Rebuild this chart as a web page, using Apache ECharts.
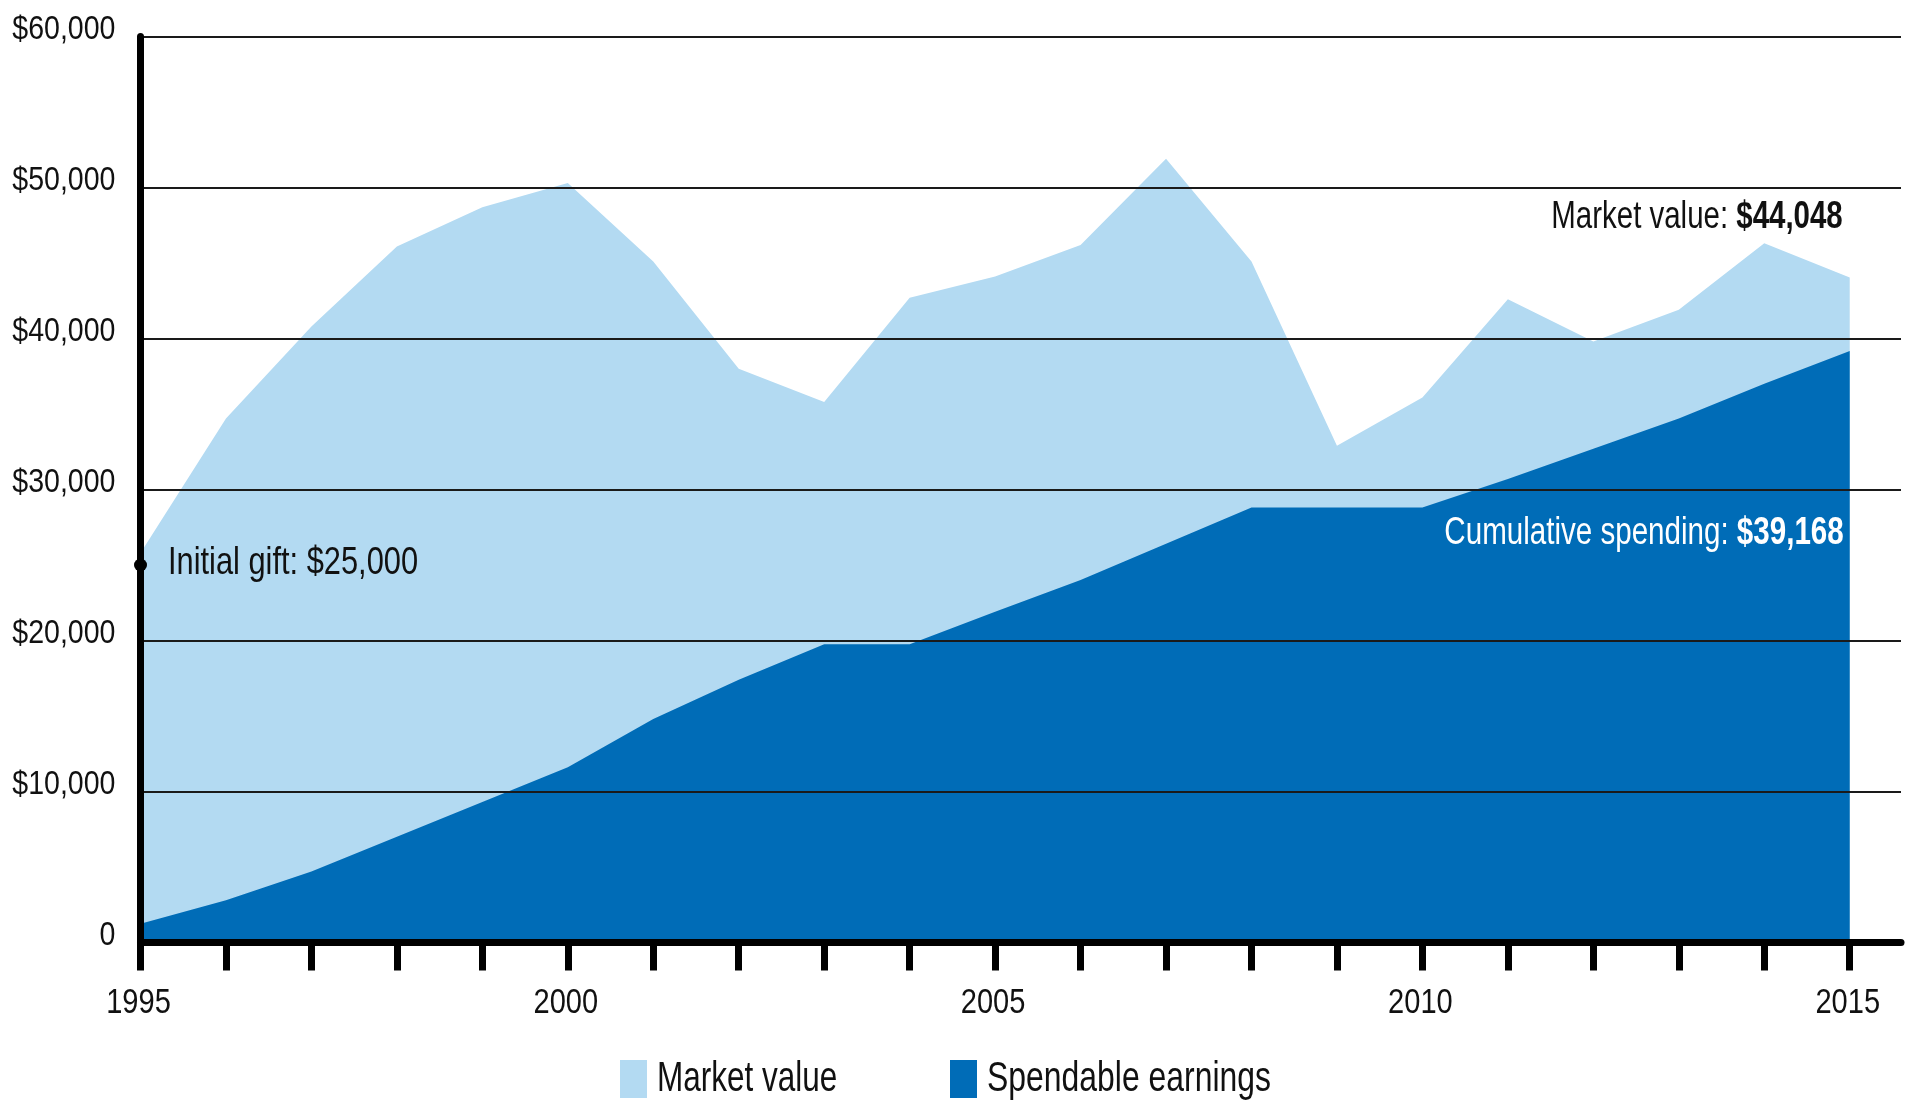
<!DOCTYPE html>
<html>
<head>
<meta charset="utf-8">
<title>Endowment: market value and spendable earnings</title>
<script src="https://cdn.jsdelivr.net/npm/echarts@6.0.0/dist/echarts.min.js"></script>
<style>
  html, body { margin: 0; padding: 0; background: #fff; }
  #chart { width: 1905px; height: 1101px; }
</style>
</head>
<body>
<div id="chart"></div>
<script>
// values
var years = [1995, 1996, 1997, 1998, 1999, 2000, 2001, 2002, 2003, 2004, 2005,
             2006, 2007, 2008, 2009, 2010, 2011, 2012, 2013, 2014, 2015];
var marketValue = [25800, 34700, 40800, 46100, 48700, 50300, 45100, 38000, 35800, 42700, 44100,
                   46200, 51900, 45100, 32900, 36100, 42600, 39800, 41900, 46300, 44048];
var spendable = [1250, 2800, 4700, 7000, 9300, 11600, 14800, 17400, 19750, 19750, 21900,
                 24000, 26400, 28800, 28800, 28800, 30700, 32700, 34700, 37000, 39168];
var initialGift = 25000;

var yTicks = [0, 10000, 20000, 30000, 40000, 50000, 60000];
var xLabelYears = [1995, 2000, 2005, 2010, 2015];
var seriesNames = ['Market value', 'Spendable earnings'];

// no narrow font installed, so Liberation Sans is squeezed with scaleX
var FONT = '"Liberation Sans", Arial, sans-serif';
var LIGHT = '#b3daf2';
var DARK = '#006cb7';
var INK = '#111';

function money(v) {
    return '$' + v.toLocaleString('en-US');
}

function pairs(vals) {
    return years.map(function (y, i) { return [y, vals[i]]; });
}

var chart = echarts.init(document.getElementById('chart'), null, { renderer: 'canvas' });

var lastMarket = marketValue[marketValue.length - 1];
var lastSpend = spendable[spendable.length - 1];

var option = {
    animation: false,
    backgroundColor: '#fff',
    grid: { left: 140.5, right: 4, top: 36.5, bottom: 158.5 },
    xAxis: {
        type: 'value',
        min: 1995,
        max: 2015.6,
        z: 4,
        splitLine: { show: false },
        axisLine: { show: true, onZero: true, lineStyle: { color: '#000', width: 7 } },
        axisTick: {
            show: true, inside: false, length: 28,
            customValues: years,
            lineStyle: { color: '#000', width: 7 }
        },
        axisLabel: { show: false }
    },
    yAxis: {
        type: 'value',
        min: 0,
        max: 60000,
        interval: 10000,
        z: 3,
        axisLine: { show: true, lineStyle: { color: '#000', width: 7 } },
        axisTick: { show: false },
        splitLine: { show: true, lineStyle: { color: '#1a1a1a', width: 2 } },
        axisLabel: { show: false }
    },
    series: [
        {
            name: seriesNames[0],
            type: 'line',
            data: pairs(marketValue),
            z: 1,
            showSymbol: false,
            symbol: 'none',
            lineStyle: { width: 0 },
            itemStyle: { color: LIGHT },
            areaStyle: { color: LIGHT, opacity: 1 },
            silent: true,
            markPoint: {
                silent: true,
                data: [{
                    coord: [1995, initialGift],
                    symbol: 'circle',
                    symbolSize: 13,
                    itemStyle: { color: '#000' },
                    label: { show: false }
                }]
            }
        },
        {
            name: seriesNames[1],
            type: 'line',
            data: pairs(spendable),
            z: 2,
            showSymbol: false,
            symbol: 'none',
            lineStyle: { width: 0 },
            itemStyle: { color: DARK },
            areaStyle: { color: DARK, opacity: 1 },
            silent: true
        }
    ]
};

chart.setOption(option);

// text is drawn as graphic elements so it can be narrowed like the original condensed face
function toPx(x, y) {
    return chart.convertToPixel({ xAxisIndex: 0, yAxisIndex: 0 }, [x, y]);
}

function txt(x, y, text, align, size, sx, color, rich) {
    var st = {
        text: text,
        fontFamily: FONT,
        fontSize: size,
        fill: color || INK,
        align: align,
        verticalAlign: 'middle'
    };
    if (rich) st.rich = rich;
    return { type: 'text', x: x, y: y, scaleX: sx, z: 20, silent: true, style: st };
}

function boldRich(size, color) {
    return {
        n: { fontFamily: FONT, fontSize: size, fill: color },
        b: { fontFamily: FONT, fontSize: size, fill: color, fontWeight: 'bold' }
    };
}

var els = [];

// y tick labels
yTicks.forEach(function (v) {
    var p = toPx(1995, v);
    els.push(txt(p[0] - 25, p[1] - 7, v === 0 ? '0' : money(v), 'right', 34, 0.84));
});

// x tick labels
xLabelYears.forEach(function (yr) {
    var p = toPx(yr, 0);
    els.push(txt(p[0] - 2, p[1] + 61, String(yr), 'center', 35, 0.83));
});

// annotations
var pGift = toPx(1995, initialGift);
els.push(txt(pGift[0] + 27.5, pGift[1] - 2, 'Initial gift: ' + money(initialGift), 'left', 39, 0.79));

var pMkt = toPx(2015, lastMarket);
els.push(txt(pMkt[0] - 7, pMkt[1] - 60,
    '{n|Market value: }{b|' + money(lastMarket) + '}', 'right', 38, 0.775, INK, boldRich(38, INK)));

var pSp = toPx(2015, lastSpend);
els.push(txt(pSp[0] - 6, pSp[1] + 182,
    '{n|Cumulative spending: }{b|' + money(lastSpend) + '}', 'right', 38, 0.778, '#fff', boldRich(38, '#fff')));

// legend: swatch + label
var legendItems = [
    { name: seriesNames[0], color: LIGHT, left: 620, sx: 0.75 },
    { name: seriesNames[1], color: DARK, left: 950, sx: 0.76 }
];
legendItems.forEach(function (it) {
    els.push({ type: 'rect', silent: true, z: 20, shape: { x: it.left, y: 1060, width: 27, height: 38 }, style: { fill: it.color } });
    els.push(txt(it.left + 37, 1079, it.name, 'left', 42, it.sx));
});

chart.setOption({ graphic: els });
</script>
</body>
</html>
